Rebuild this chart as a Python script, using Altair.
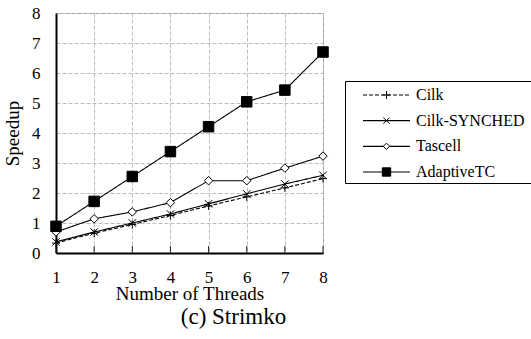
import altair as alt
import pandas as pd

threads = [1, 2, 3, 4, 5, 6, 7, 8]
series_names = ["Cilk", "Cilk-SYNCHED", "Tascell", "AdaptiveTC"]
cilk = [0.33, 0.66, 0.95, 1.25, 1.57, 1.87, 2.17, 2.48]
cilk_synched = [0.37, 0.70, 1.00, 1.30, 1.64, 1.97, 2.30, 2.59]
tascell = [0.70, 1.14, 1.37, 1.68, 2.41, 2.41, 2.83, 3.23]
adaptive_tc = [0.89, 1.72, 2.55, 3.38, 4.21, 5.04, 5.43, 6.70]
y_ticks = [0, 1, 2, 3, 4, 5, 6, 7, 8]
x_title = "Number of Threads"
y_title = "Speedup"
caption = "(c) Strimko"

series_values = {
    "Cilk": cilk,
    "Cilk-SYNCHED": cilk_synched,
    "Tascell": tascell,
    "AdaptiveTC": adaptive_tc,
}
rows = [
    {"threads": t, "speedup": v, "series": s}
    for s in series_names
    for t, v in zip(threads, series_values[s])
]
df = pd.DataFrame(rows)
legend_df = pd.DataFrame({"series": series_names, "row": list(range(len(series_names)))})

FONT = "Liberation Serif"
W, H = 267, 240

PLUS = "M-1,0H1M0,-1V1"
XMARK = "M-1,-1L1,1M-1,1L1,-1"
DIAMOND = "M0,-1L1,0L0,1L-1,0Z"
SQUARE = "M-1,-1H1V1H-1Z"

# (shape, plot size, legend size, fill)
marker_style = {
    "Cilk": (PLUS, 64, 64, "transparent"),
    "Cilk-SYNCHED": (XMARK, 56, 40, "transparent"),
    "Tascell": (DIAMOND, 72, 40, "white"),
    "AdaptiveTC": (SQUARE, 110, 70, "black"),
}
dash_scale = alt.Scale(domain=series_names, range=[[4, 2], [1, 0], [1, 0], [1, 0]])

x_axis = alt.Axis(values=threads, title=x_title, labelPadding=16, titlePadding=-1)
y_axis = alt.Axis(values=y_ticks, title=y_title, labelPadding=16, titlePadding=9)
X = alt.X("threads:Q", scale=alt.Scale(domain=[1, 8], nice=False, zero=False), axis=x_axis)
Y = alt.Y("speedup:Q", scale=alt.Scale(domain=[0, 8], nice=False), axis=y_axis)

lines = alt.Chart(df).mark_line(color="black", strokeWidth=1.1).encode(
    x=X,
    y=Y,
    detail="series:N",
    strokeDash=alt.StrokeDash("series:N", scale=dash_scale, legend=None),
)

inner_ticks = alt.Chart(pd.DataFrame({"threads": threads})).mark_rule(
    color="#222222", strokeWidth=1
).encode(
    x=X,
    y=alt.value(H),
    y2=alt.value(H - 7),
)

point_layers = []
for s in series_names:
    shape, size, _, fill = marker_style[s]
    point_layers.append(
        alt.Chart(df)
        .transform_filter(alt.datum.series == s)
        .mark_point(shape=shape, size=size, fill=fill, stroke="black", strokeWidth=1, opacity=1)
        .encode(x=X, y=Y)
    )

main = alt.layer(lines, inner_ticks, *point_layers)

# ---- legend box (drawn from the series list) ----
leg_y = alt.Y("row:Q", scale=alt.Scale(domain=[0, 3], range=[82, 159]), axis=None)
leg_box = alt.Chart(pd.DataFrame({"k": [0]})).mark_rect(
    fill="white", stroke="black", strokeWidth=1
).encode(x=alt.value(289.5), x2=alt.value(477), y=alt.value(68.5), y2=alt.value(170.5))
leg_lines = alt.Chart(legend_df).mark_rule(color="black", strokeWidth=1.1).encode(
    x=alt.value(307),
    x2=alt.value(354),
    y=leg_y,
    strokeDash=alt.StrokeDash("series:N", scale=dash_scale, legend=None),
)
leg_marks = []
for s in series_names:
    shape, _, lsize, fill = marker_style[s]
    leg_marks.append(
        alt.Chart(legend_df)
        .transform_filter(alt.datum.series == s)
        .mark_point(shape=shape, size=lsize, fill=fill, stroke="black", strokeWidth=1, opacity=1)
        .encode(x=alt.value(330.5), y=leg_y)
    )
leg_text = alt.Chart(legend_df).mark_text(
    align="left", baseline="middle", font=FONT, fontSize=16, color="black"
).encode(x=alt.value(360), y=leg_y, text="series:N")

legend = alt.layer(leg_box, leg_lines, *leg_marks, leg_text)

chart = (
    alt.layer(main, legend)
    .resolve_scale(y="independent")
    .properties(
        width=W,
        height=H,
        background="white",
        title=alt.TitleParams(
            caption,
            orient="bottom",
            font=FONT,
            fontSize=23,
            fontWeight="normal",
            color="black",
            dx=44,
            offset=3,
        ),
        autosize=alt.AutoSizeParams(type="none"),
        padding={"left": 56, "top": 13, "right": 208, "bottom": 86},
    )
    .configure_axis(
        grid=True,
        gridColor="#bdbdbd",
        gridDash=[4, 2],
        gridWidth=1,
        ticks=False,
        domainColor="black",
        domainWidth=2,
        labelFont=FONT,
        labelFontSize=17,
        labelColor="black",
        labelOverlap=False,
        labelFlush=False,
        labelBound=False,
        titleFont=FONT,
        titleFontSize=19,
        titleFontWeight="normal",
        titleColor="black",
    )
    .configure_view(stroke="#999999", strokeWidth=1)
)

chart.save("out.html", embed_options={"renderer": "svg", "actions": False})
